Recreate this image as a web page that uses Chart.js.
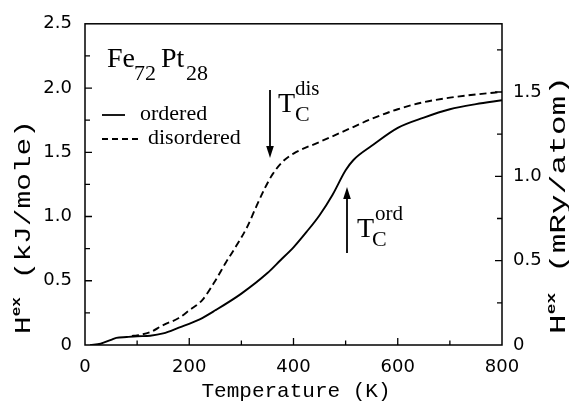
<!DOCTYPE html>
<html><head><meta charset="utf-8">
<script src="https://cdn.jsdelivr.net/npm/chart.js@4.4.1/dist/chart.umd.min.js"></script>
<style>html,body{margin:0;padding:0;background:#fff}#wrap{width:569px;height:411px;position:relative}</style>
</head><body><div id="wrap"><canvas id="c" width="569" height="411"></canvas></div>
<script>
// ---- data ----
const tempOrdered = [10,30,50,60,80,100,125,150,180,220,250,300,350,375,400,425,450,475,500,515,550,600,650,700,750,800];
const hexOrdered  = [0,0.01,0.04,0.055,0.062,0.068,0.072,0.09,0.135,0.2,0.27,0.4,0.56,0.66,0.76,0.88,1.01,1.17,1.36,1.44,1.55,1.69,1.77,1.835,1.875,1.905];
const tempDisordered = [90,100,125,150,180,200,225,250,270,290,310,330,345,360,380,400,450,500,550,600,650,700,750,800];
const hexDisordered  = [0.07,0.075,0.1,0.155,0.21,0.27,0.35,0.5,0.64,0.77,0.91,1.09,1.22,1.33,1.43,1.49,1.58,1.67,1.76,1.835,1.89,1.925,1.95,1.97];
const xTickLabels = ['0','200','400','600','800'];
const leftTickLabels = ['0','0.5','1.0','1.5','2.0','2.5'];
const rightTickLabels = ['0','0.5','1.0','1.5'];
const rightMinorTicks = [0,0.25,0.5,0.75,1.0,1.25,1.5,1.75];
const kJperMRy = 1.3128; // 1 mRy/atom in kJ/mole
const seriesNames = ['ordered','disordered'];

function labelFor(list, v){
  for (const l of list){ if (Math.abs(parseFloat(l) - v) < 1e-9) return l; }
  return '';
}

const TICKFONT = {family:'DejaVu Sans', size:18};

function drawRuns(ctx, runs, x, y){
  let cx = x;
  for (const r of runs){
    ctx.font = r.font;
    ctx.fillText(r.text, cx, y + (r.dy||0));
    cx += ctx.measureText(r.text).width;
  }
  return cx - x;
}
function runsWidth(ctx, runs){
  let w = 0;
  for (const r of runs){ ctx.font = r.font; w += ctx.measureText(r.text).width; }
  return w;
}

const decorPlugin = {
  id:'decor',
  afterDraw(chart){
    const ctx = chart.ctx, a = chart.chartArea;
    const sx = chart.scales.x, sy = chart.scales.y, sr = chart.scales.y2;
    ctx.save();
    ctx.strokeStyle = '#000'; ctx.fillStyle = '#000';
    // frame
    ctx.lineWidth = 1.5;
    ctx.strokeRect(a.left, a.top, a.right - a.left, a.bottom - a.top);
    // inward ticks
    ctx.lineWidth = 1.3;
    ctx.beginPath();
    sx.ticks.forEach(t => {
      const p = sx.getPixelForValue(t.value);
      if (p <= a.left + 1 || p >= a.right - 1) return;
      const len = labelFor(xTickLabels, t.value) ? 7 : 4.5;
      ctx.moveTo(p, a.bottom); ctx.lineTo(p, a.bottom - len);
    });
    sy.ticks.forEach(t => {
      const p = sy.getPixelForValue(t.value);
      if (p <= a.top + 1 || p >= a.bottom - 1) return;
      const len = labelFor(leftTickLabels, t.value) ? 7 : 5;
      ctx.moveTo(a.left, p); ctx.lineTo(a.left + len, p);
    });
    sr.ticks.forEach(t => {
      const p = sr.getPixelForValue(t.value);
      if (p <= a.top + 1 || p >= a.bottom - 1) return;
      const len = labelFor(rightTickLabels, t.value) ? 7 : 5;
      ctx.moveTo(a.right, p); ctx.lineTo(a.right - len, p);
    });
    ctx.stroke();

    // x title
    ctx.textBaseline = 'alphabetic';
    ctx.textAlign = 'left';
    ctx.font = '21px "Liberation Mono"';
    const xt = 'Temperature (K)';
    const xw = ctx.measureText(xt).width;
    ctx.fillText(xt, 296 - xw/2, 397);

    // y titles (rotated, reading upward, horizontally stretched as in the reference)
    const leftRuns = [
      {text:'H', font:'22px "Liberation Mono"'},
      {text:'ex', font:'bold 12px "Liberation Mono"', dy:-10},
      {text:' (kJ/mole)', font:'22px "Liberation Mono"'}
    ];
    const rightRuns = [
      {text:'H', font:'22px "Liberation Mono"'},
      {text:'ex', font:'bold 12px "Liberation Mono"', dy:-10},
      {text:' (mRy/atom)', font:'22px "Liberation Mono"'}
    ];
    function vtitle(runs, xBase, yStart, length){
      const w = runsWidth(ctx, runs);
      ctx.save();
      ctx.translate(xBase, yStart);
      ctx.rotate(-Math.PI/2);
      ctx.scale(length / w, 1);
      drawRuns(ctx, runs, 0, 0);
      ctx.restore();
    }
    vtitle(leftRuns, 30, 334, 214);
    vtitle(rightRuns, 565, 334, 258);

    // composition label
    ctx.font = '28px "Liberation Serif"';
    ctx.fillText('Fe', 107, 67);
    ctx.font = '22px "Liberation Serif"';
    ctx.fillText('72', 134, 80);
    ctx.font = '28px "Liberation Serif"';
    ctx.fillText('Pt', 161, 67);
    ctx.font = '22px "Liberation Serif"';
    ctx.fillText('28', 186, 80);

    // legend
    ctx.lineWidth = 1.8;
    ctx.beginPath(); ctx.moveTo(102, 115); ctx.lineTo(125, 115); ctx.stroke();
    ctx.setLineDash([6,4]);
    ctx.beginPath(); ctx.moveTo(102, 139); ctx.lineTo(138, 139); ctx.stroke();
    ctx.setLineDash([]);
    ctx.font = '22px "Liberation Serif"';
    ctx.fillText(seriesNames[0], 140, 120);
    ctx.fillText(seriesNames[1], 148, 144);

    // arrows
    function arrow(x, yFrom, yTip){
      const dir = yTip > yFrom ? 1 : -1;
      ctx.lineWidth = 1.8;
      ctx.beginPath(); ctx.moveTo(x, yFrom); ctx.lineTo(x, yTip - dir*10); ctx.stroke();
      ctx.beginPath(); ctx.moveTo(x, yTip); ctx.lineTo(x - 3.8, yTip - dir*12); ctx.lineTo(x + 3.8, yTip - dir*12); ctx.closePath(); ctx.fill();
    }
    arrow(270, 90, 158);
    arrow(347, 253, 187);

    // Tc labels
    ctx.font = '28px "Liberation Serif"';
    ctx.fillText('T', 278, 112);
    ctx.font = '21px "Liberation Serif"';
    ctx.fillText('dis', 295, 95);
    ctx.font = '22px "Liberation Serif"';
    ctx.fillText('C', 295, 121);

    ctx.font = '28px "Liberation Serif"';
    ctx.fillText('T', 357, 237);
    ctx.font = '21px "Liberation Serif"';
    ctx.fillText('ord', 375, 220);
    ctx.font = '22px "Liberation Serif"';
    ctx.fillText('C', 372, 246);

    ctx.restore();
  }
};

const ctx = document.getElementById('c').getContext('2d');
new Chart(ctx, {
  type:'line',
  data:{datasets:[
    {label:seriesNames[0], data: tempOrdered.map((t,i)=>({x:t, y:hexOrdered[i]})),
     borderColor:'#000', borderWidth:1.9, pointRadius:0, cubicInterpolationMode:'monotone', fill:false, yAxisID:'y'},
    {label:seriesNames[1], data: tempDisordered.map((t,i)=>({x:t, y:hexDisordered[i]})),
     borderColor:'#000', borderWidth:1.9, borderDash:[7,4], pointRadius:0, cubicInterpolationMode:'monotone', fill:false, yAxisID:'y'}
  ]},
  options:{
    responsive:false, animation:false, devicePixelRatio:1,
    layout:{padding:{top:13, left:0, right:0, bottom:0}},
    plugins:{legend:{display:false}, tooltip:{enabled:false}, title:{display:false}},
    scales:{
      x:{type:'linear', position:'bottom', min:0, max:800,
         grid:{display:false, drawTicks:false}, border:{display:false},
         ticks:{stepSize:100, autoSkip:false, maxRotation:0, padding:12, color:'#000', font:TICKFONT,
                callback:v=>labelFor(xTickLabels, v)},
         afterFit:s=>{s.height = 66;}},
      y:{type:'linear', position:'left', min:0, max:2.5,
         grid:{display:false, drawTicks:false}, border:{display:false},
         ticks:{stepSize:0.25, autoSkip:false, padding:13, color:'#000', font:TICKFONT,
                callback:v=>labelFor(leftTickLabels, v)},
         afterFit:s=>{s.width = 85;}},
      y2:{type:'linear', position:'right', min:0, max:2.5/kJperMRy,
         grid:{display:false, drawTicks:false}, border:{display:false},
         afterBuildTicks:s=>{ s.ticks = rightMinorTicks.map(v=>({value:v})); },
         ticks:{autoSkip:false, padding:11, color:'#000', font:TICKFONT,
                callback:v=>labelFor(rightTickLabels, v)},
         afterFit:s=>{s.width = 67;}}
    }
  },
  plugins:[decorPlugin]
});
</script></body></html>
